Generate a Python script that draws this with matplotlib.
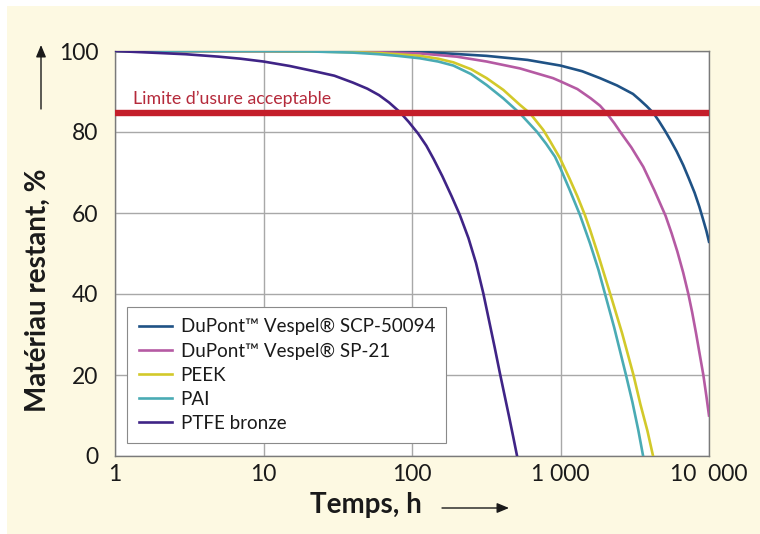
import matplotlib
matplotlib.use("Agg")
import matplotlib.pyplot as plt
from matplotlib.patches import Rectangle, FancyArrowPatch

plt.rcParams['font.family'] = ['Lato', 'DejaVu Sans']

# (hours, % remaining)
scp_x = [1, 10, 50, 113, 318, 600, 1000, 1400, 1845, 2400, 3077, 3430, 3800, 4220, 4600,
         5055, 5500, 6056, 6710, 7300, 8000, 8600, 9160, 9600, 10000]
scp_y = [100, 100, 99.9, 99.8, 98.8, 97.8, 96.4, 95.0, 93.3, 91.5, 89.4, 87.9, 86.4, 84.7, 82.7,
         80.3, 78.0, 75.2, 71.8, 68.6, 65.0, 61.6, 58.2, 55.6, 52.9]

sp21_x = [1, 10, 30, 60, 113, 200, 318, 533, 890, 1000, 1300, 1600, 1845, 2030, 2300, 2517,
          3000, 3610, 4300, 5100, 5600, 6120, 6700, 7260, 7700, 8180, 8650, 9160, 9600, 10000]
sp21_y = [100, 100, 99.9, 99.7, 99.4, 98.6, 97.4, 95.7, 93.3, 92.5, 90.6, 88.3, 86.5, 84.8, 82.2, 80.1,
          76.2, 71.4, 65.5, 59.3, 55.0, 50.5, 45.3, 40.0, 35.5, 30.3, 25.2, 20.0, 14.8, 10.0]

peek_x = [1, 10, 20, 40, 60, 80, 113, 150, 190, 250, 318, 412, 533, 624, 766, 849, 993,
          1150, 1300, 1460, 1580, 1800, 2180, 2600, 3100, 3450, 3850, 4200]
peek_y = [100, 100, 99.9, 99.7, 99.5, 99.2, 98.8, 98.1, 97.2, 95.5, 93.3, 90.4, 86.7, 84.6, 80.5, 77.8, 73.5,
          68.5, 64.1, 59.5, 55.9, 49.5, 39.6, 30.3, 20.0, 12.8, 6.2, 0]

pai_x = [1, 10, 20, 40, 60, 80, 113, 150, 190, 250, 318, 412, 533, 692, 800, 918, 1000,
         1150, 1353, 1580, 1800, 1995, 2300, 2760, 3050, 3340, 3600]
pai_y = [100, 100, 99.9, 99.6, 99.2, 98.8, 98.2, 97.4, 96.4, 94.3, 91.6, 88.3, 84.6, 80.1, 77.1, 73.9, 71.0,
         65.8, 59.5, 52.5, 46.0, 40.0, 31.7, 20.0, 13.3, 6.4, 0]

ptfe_x = [1, 2, 3, 5, 7, 10, 15, 22, 30, 40, 50, 60, 70, 83, 95, 110, 125, 140, 160, 185,
          210, 240, 270, 302, 330, 360, 391, 420, 450, 480, 510]
ptfe_y = [100, 99.5, 99.2, 98.6, 98.1, 97.4, 96.3, 95.0, 93.9, 92.2, 90.7, 89.1, 87.3, 84.9, 82.5, 79.6,
          76.6, 73.3, 69.1, 64.1, 59.5, 53.8, 47.6, 40.2, 33.5, 26.9, 20.4, 15.0, 9.8, 4.8, 0]

series = [
    ('DuPont™ Vespel® SCP-50094', scp_x, scp_y, '#1f5285'),
    ('DuPont™ Vespel® SP-21', sp21_x, sp21_y, '#b55aa3'),
    ('PEEK', peek_x, peek_y, '#d2c92a'),
    ('PAI', pai_x, pai_y, '#4aabb4'),
    ('PTFE bronze', ptfe_x, ptfe_y, '#3f2486'),
]

limit = 84.7
x_ticks = [1, 10, 100, 1000, 10000]
x_labels = ['1', '10', '100', '1 000', '10  000']
y_ticks = [0, 20, 40, 60, 80, 100]

fig = plt.figure(figsize=(7.6, 5.34), dpi=100)
fig.patch.set_facecolor('white')
fig.patches.append(Rectangle((7 / 760, 0), 753 / 760, 528 / 534, transform=fig.transFigure,
                             facecolor='#fdf9e2', edgecolor='none', zorder=-10))

ax = fig.add_axes([115 / 760, 1 - 456 / 534, 594 / 760, 405 / 534])
ax.set_facecolor('white')

for name, xs, ys, col in series:
    ax.plot(xs, ys, color=col, lw=1.9, label=name, solid_joinstyle='round', zorder=3)

ax.axhline(limit, color='#c41e2a', lw=4.6, zorder=4)
ax.text(1.32, 88.1, 'Limite d\u2019usure acceptable', color='#b52a3b', fontsize=12.8,
        va='center', ha='left', zorder=5)

ax.set_xscale('log')
ax.set_xlim(1, 10000)
ax.set_ylim(0, 100)
ax.set_xticks(x_ticks)
ax.set_xticklabels(x_labels)
ax.minorticks_off()
ax.set_yticks(y_ticks)
ax.tick_params(length=0, labelsize=16.5, colors='#1a1a1a')
ax.tick_params(axis='y', pad=12)
ax.tick_params(axis='x', pad=6)
ax.grid(True, color='#a8a8a8', lw=1, zorder=0)
for s in ax.spines.values():
    s.set_color('#7a7a7a')
    s.set_linewidth(1)

leg = ax.legend(loc='lower left', bbox_to_anchor=(0.0207, 0.0314), borderaxespad=0,
                fontsize=13.5, frameon=True, fancybox=False, framealpha=1,
                edgecolor='#8a8a8a', handlelength=1.8, handletextpad=0.45,
                labelspacing=0.38, borderpad=0.6)
leg.get_frame().set_linewidth(0.8)
for t in leg.get_texts():
    t.set_color('#1a1a1a')

fig.text(38 / 760, 1 - 290 / 534, 'Matériau restant, %', rotation=90, fontsize=20,
         fontweight='bold', ha='center', va='center', color='#1a1a1a')
fig.text(366 / 760, 1 - 505 / 534, 'Temps, h', fontsize=20, fontweight='bold',
         ha='center', va='center', color='#1a1a1a')

arrow = dict(arrowstyle='-|>,head_length=0.6,head_width=0.25', color='#1a1a1a', lw=1,
             mutation_scale=12, shrinkA=0, shrinkB=0)
fig.add_artist(FancyArrowPatch((41 / 760, 1 - 109 / 534), (41 / 760, 1 - 45 / 534),
                               transform=fig.transFigure, **arrow))
fig.add_artist(FancyArrowPatch((442 / 760, 1 - 508 / 534), (509 / 760, 1 - 508 / 534),
                               transform=fig.transFigure, **arrow))

fig.savefig('out.png', dpi=100, facecolor=fig.get_facecolor())
